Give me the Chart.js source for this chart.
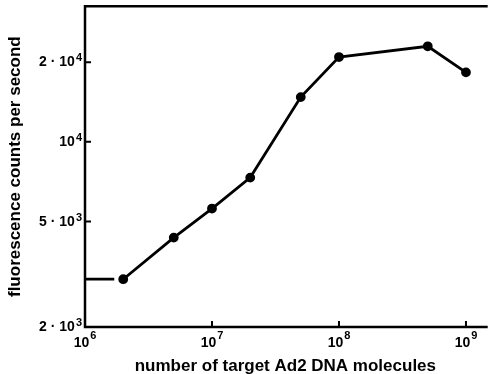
<!DOCTYPE html>
<html><head><meta charset="utf-8">
<script src="https://cdn.jsdelivr.net/npm/chart.js@4/dist/chart.umd.min.js"></script>
<style>html,body{margin:0;padding:0;background:#fff}#wrap{width:492px;height:374px}</style>
</head><body><div id="wrap"><canvas id="c" width="492" height="374"></canvas></div>
<script>
const targetMolecules = [2e6, 5e6, 1e7, 2e7, 5e7, 1e8, 5e8, 1e9];
const countsPerSecond = [3030, 4350, 5600, 7330, 14760, 20900, 22950, 18300];
const baselineX = [1e6, 1.7e6];
const baselineY = [3030, 3030];
const xTickValues = [1e6, 1e7, 1e8, 1e9];
const xTickBase = ['10', '10', '10', '10'];
const xTickExp = ['6', '7', '8', '9'];
const yTickValues = [2000, 5000, 10000, 20000];
const yTickBase = ['2 \u00b7 10', '5 \u00b7 10', '10', '2 \u00b7 10'];
const yTickExp = ['3', '3', '4', '4'];

const FAM = '"Liberation Sans", Arial, sans-serif';
const baseFont = 'bold 14px ' + FAM;
const supFont = 'bold 11px ' + FAM;

const frame = {
  id: 'frame',
  afterDraw(chart) {
    const {ctx, chartArea: a, scales: {x, y}} = chart;
    ctx.save();
    ctx.strokeStyle = '#000';
    ctx.lineWidth = 2.5;
    ctx.beginPath();
    ctx.moveTo(a.right + 2, a.top);
    ctx.lineTo(a.left, a.top);
    ctx.lineTo(a.left, a.bottom);
    ctx.lineTo(a.right + 2, a.bottom);
    ctx.stroke();
    ctx.lineWidth = 2;
    ctx.beginPath();
    xTickValues.forEach(v => { const px = x.getPixelForValue(v); ctx.moveTo(px, a.bottom); ctx.lineTo(px, a.bottom - 6); });
    yTickValues.forEach(v => { const py = y.getPixelForValue(v); ctx.moveTo(a.left, py); ctx.lineTo(a.left + 6, py); });
    ctx.stroke();
    ctx.fillStyle = '#000';
    ctx.textAlign = 'left';
    ctx.textBaseline = 'alphabetic';
    const measure = (b, e) => {
      ctx.font = baseFont; const wb = ctx.measureText(b).width;
      ctx.font = supFont; const we = ctx.measureText(e).width;
      return [wb, we];
    };
    xTickValues.forEach((v, i) => {
      const px = x.getPixelForValue(v);
      const [wb, we] = measure(xTickBase[i], xTickExp[i]);
      const x0 = px - (wb + we + 1) / 2;
      ctx.font = baseFont; ctx.fillText(xTickBase[i], x0, a.bottom + 20);
      ctx.font = supFont; ctx.fillText(xTickExp[i], x0 + wb + 1, a.bottom + 12);
    });
    yTickValues.forEach((v, i) => {
      const py = y.getPixelForValue(v);
      const [wb, we] = measure(yTickBase[i], yTickExp[i]);
      const x0 = a.left - 3 - (wb + we + 1);
      ctx.font = baseFont; ctx.fillText(yTickBase[i], x0, py + 4);
      ctx.font = supFont; ctx.fillText(yTickExp[i], x0 + wb + 1, py - 1);
    });
    ctx.restore();
  }
};

const titleFont = {family: FAM, weight: 'bold', size: 17};

new Chart(document.getElementById('c'), {
  type: 'scatter',
  data: {
    datasets: [
      {data: targetMolecules.map((v, i) => ({x: v, y: countsPerSecond[i]})), showLine: true,
       borderColor: '#000', backgroundColor: '#000', borderWidth: 2.8, pointRadius: 3.5, pointHoverRadius: 3.5, clip: false},
      {data: baselineX.map((v, i) => ({x: v, y: baselineY[i]})), showLine: true,
       borderColor: '#000', borderWidth: 2.8, pointRadius: 0}
    ]
  },
  options: {
    responsive: false,
    animation: false,
    layout: {padding: 0},
    plugins: {legend: {display: false}, tooltip: {enabled: false}},
    scales: {
      x: {
        type: 'logarithmic', min: 1e6, max: 1.43e9,
        grid: {display: false}, border: {display: false},
        afterBuildTicks: s => { s.ticks = xTickValues.map(v => ({value: v})); },
        afterFit: s => { s.height = 47; },
        ticks: {display: false},
        title: {display: true, text: 'number of target Ad2 DNA molecules', color: '#000', font: titleFont, padding: {top: -3, bottom: -3}}
      },
      y: {
        type: 'logarithmic', min: 2000, max: 32500,
        grid: {display: false}, border: {display: false},
        afterBuildTicks: s => { s.ticks = yTickValues.map(v => ({value: v})); },
        afterFit: s => { s.width = 85; },
        ticks: {display: false},
        title: {display: true, text: 'fluorescence counts per second', color: '#000', font: titleFont, padding: {top: 5, bottom: 0}}
      }
    }
  },
  plugins: [frame]
});
</script></body></html>
